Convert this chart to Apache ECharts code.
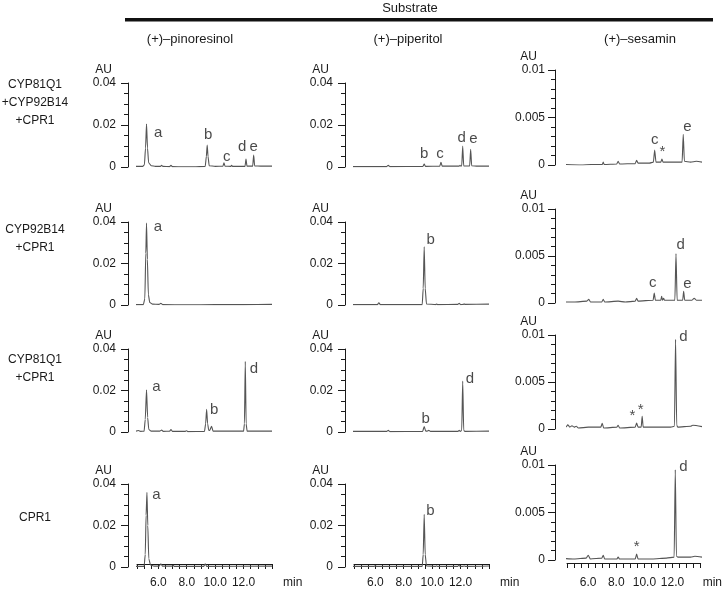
<!DOCTYPE html>
<html><head><meta charset="utf-8">
<script src="https://cdn.jsdelivr.net/npm/echarts@6/dist/echarts.min.js"></script>
<style>html,body{margin:0;padding:0;background:#fff}#c{width:723px;height:589px}</style>
</head><body><div id="c"></div>
<script>
// ---------------- data ----------------
const headerTitle = 'Substrate';
const substrates = ['(+)–pinoresinol', '(+)–piperitol', '(+)–sesamin'];
const enzymes = ['CYP81Q1\n+CYP92B14\n+CPR1', 'CYP92B14\n+CPR1', 'CYP81Q1\n+CPR1', 'CPR1'];
const timeRange = [4.5, 14.0];
const timeTickStep = 0.5;
const timeLabels = [6, 8, 10, 12];
const auMax = [0.04, 0.04, 0.01];
const auStep = [0.02, 0.02, 0.005];
const auMinorSplit = [4, 4, 5];

// chromatograms [time (min), AU]
const pino_81Q1_92B14 = [[4.4,0.0003],[4.9,0.0003],[5.02,0.001],[5.1,0.009],[5.17,0.0205],[5.24,0.009],[5.32,0.002],[5.5,0.0006],[5.8,0.0003],[6.15,0.0003],[6.23,0.0008],[6.32,0.0003],[6.8,0.0002],[6.89,0.0008],[6.98,0.0002],[7.8,0.0001],[8.5,0.0001],[9.3,0.0003],[9.38,0.005],[9.44,0.0105],[9.5,0.005],[9.58,0.0006],[10.0,0.0003],[10.55,0.0004],[10.62,0.002],[10.69,0.0004],[11.1,0.0003],[11.16,0.0008],[11.22,0.0003],[12.1,0.0003],[12.17,0.0038],[12.24,0.0004],[12.64,0.0004],[12.71,0.0057],[12.78,0.0005],[13.2,0.0004],[14.0,0.0004]];
const pipe_81Q1_92B14 = [[4.4,0.0002],[6.8,0.0002],[6.91,0.0008],[7.02,0.0002],[9.35,0.0003],[9.44,0.0014],[9.53,0.0003],[10.53,0.0004],[10.62,0.0022],[10.71,0.0004],[11.9,0.0004],[11.96,0.0008],[12.02,0.0004],[12.08,0.0005],[12.15,0.01],[12.22,0.0005],[12.64,0.0005],[12.71,0.0084],[12.78,0.0006],[13.2,0.0004],[14.0,0.0004]];
const sesa_81Q1_92B14 = [[4.4,0.00005],[5.5,0.0],[6.2,0.00005],[6.98,0.00005],[7.05,0.0003],[7.12,0.00005],[8.0,0.0001],[8.1,0.0004],[8.2,0.0001],[9.3,0.00015],[9.4,0.0005],[9.5,0.0002],[10.3,0.0002],[10.58,0.0003],[10.67,0.00158],[10.76,0.0003],[11.1,0.0003],[11.18,0.00063],[11.26,0.0003],[12.0,0.0003],[12.6,0.0003],[12.68,0.00323],[12.76,0.0004],[13.2,0.0003],[13.6,0.0004],[14.0,0.0003]];

const pino_92B14 = [[4.4,0.0002],[4.95,0.0002],[5.05,0.003],[5.12,0.025],[5.17,0.0395],[5.23,0.022],[5.3,0.005],[5.4,0.0012],[5.6,0.0004],[6.05,0.0003],[6.18,0.0008],[6.3,0.0002],[8.0,0.0001],[10.0,0.0002],[12.0,0.0002],[14.0,0.0003]];
const pipe_92B14 = [[4.4,0.0002],[6.15,0.0002],[6.25,0.0011],[6.35,0.0002],[9.3,0.0002],[9.37,0.008],[9.44,0.028],[9.51,0.008],[9.6,0.0005],[10.25,0.0002],[10.31,0.0005],[10.37,0.0002],[11.8,0.0003],[11.9,0.0008],[12.0,0.0002],[12.2,0.0003],[12.25,0.0006],[12.3,0.0003],[14.0,0.0004]];
const sesa_92B14 = [[4.4,0.0001],[5.0,0.0001],[5.9,0.0002],[6.04,0.0004],[6.15,0.0001],[6.95,0.0001],[7.05,0.0004],[7.15,0.0001],[8.1,0.0002],[8.6,0.0001],[9.3,0.0002],[9.4,0.0005],[9.5,0.0002],[10.56,0.0003],[10.64,0.00106],[10.72,0.0003],[11.1,0.0003],[11.16,0.0007],[11.22,0.0003],[11.3,0.0005],[11.36,0.0003],[12.09,0.0003],[12.17,0.00524],[12.25,0.0003],[12.64,0.0003],[12.71,0.00124],[12.78,0.0003],[13.3,0.0003],[13.45,0.0005],[13.6,0.0003],[14.0,0.0003]];

const pino_81Q1 = [[4.4,0.0004],[4.6,0.0007],[4.75,0.0003],[5.0,0.0004],[5.08,0.006],[5.17,0.0203],[5.25,0.007],[5.33,0.0012],[5.5,0.0004],[6.1,0.0004],[6.23,0.0009],[6.35,0.0003],[6.8,0.0004],[6.89,0.0012],[7.0,0.0003],[7.9,0.0003],[7.99,0.0006],[8.1,0.0002],[9.25,0.0003],[9.33,0.004],[9.4,0.0109],[9.47,0.004],[9.55,0.0008],[9.62,0.0008],[9.75,0.0028],[9.85,0.0004],[12.0,0.0004],[12.06,0.004],[12.12,0.034],[12.18,0.004],[12.25,0.0004],[14.0,0.0004]];
const pipe_81Q1 = [[4.4,0.0003],[6.8,0.0003],[6.91,0.0008],[7.02,0.0002],[9.33,0.0003],[9.44,0.0026],[9.55,0.0004],[9.65,0.0004],[9.77,0.0008],[9.88,0.0003],[11.82,0.0003],[11.9,0.0008],[11.98,0.0003],[12.08,0.0008],[12.15,0.0245],[12.22,0.0008],[12.3,0.0003],[14.0,0.0004]];
const sesa_81Q1 = [[4.4,0.0002],[4.45,0.00025],[4.55,0.00045],[4.7,0.0002],[4.85,0.00035],[5.0,0.0002],[5.15,0.0003],[5.3,0.0001],[6.0,0.0002],[6.88,0.0002],[6.98,0.0006],[7.08,0.0001],[8.0,0.0002],[8.1,0.0004],[8.2,0.0001],[9.3,0.0002],[9.4,0.00063],[9.5,0.0002],[9.72,0.0002],[9.79,0.00134],[9.86,0.0002],[10.5,0.0002],[11.8,0.0002],[12.06,0.0003],[12.14,0.00954],[12.22,0.0004],[12.3,0.0002],[13.2,0.0003],[13.35,0.0004],[14.0,0.00025]];

const pino_CPR1 = [[4.4,0.0003],[5.0,0.0003],[5.08,0.006],[5.14,0.025],[5.2,0.036],[5.26,0.02],[5.33,0.004],[5.45,0.001],[5.7,0.0004],[6.05,0.0004],[6.18,0.0016],[6.3,0.0004],[6.98,0.0004],[7.05,0.0008],[7.12,0.0003],[8.0,0.0003],[9.2,0.0003],[9.3,0.0016],[9.4,0.0003],[14.0,0.0004]];
const pipe_CPR1 = [[4.4,0.0003],[5.9,0.0003],[6.0,0.0007],[6.1,0.0003],[9.3,0.0003],[9.37,0.006],[9.44,0.0253],[9.51,0.006],[9.6,0.0005],[10.25,0.0003],[10.31,0.0006],[10.37,0.0003],[11.8,0.0003],[11.88,0.0009],[11.96,0.0003],[12.18,0.0003],[12.25,0.0006],[12.32,0.0003],[14.0,0.0005]];
const sesa_CPR1 = [[4.4,0.00015],[5.0,0.0001],[5.85,0.0002],[5.99,0.0005],[6.15,0.0001],[6.95,0.0002],[7.05,0.0005],[7.15,0.0001],[8.0,0.0001],[8.1,0.0003],[8.2,0.0001],[9.3,0.0001],[9.4,0.00063],[9.5,0.0001],[10.5,0.0001],[11.5,0.0002],[12.04,0.0003],[12.12,0.0095],[12.2,0.0004],[12.3,0.0003],[13.2,0.0003],[13.5,0.0004],[14.0,0.0003]];

// peak annotations [time, AU, text]
const notes_pino_81Q1_92B14 = [[5.99,0.0163,'a'],[9.51,0.0152,'b'],[10.81,0.0046,'c'],[11.9,0.0097,'d'],[12.71,0.0095,'e']];
const notes_pipe_81Q1_92B14 = [[9.44,0.0063,'b'],[10.56,0.0062,'c'],[12.08,0.0137,'d'],[12.9,0.0135,'e']];
const notes_sesa_81Q1_92B14 = [[10.67,0.0026,'c'],[11.21,0.00142,'*'],[12.98,0.00403,'e']];
const notes_pino_92B14 = [[5.97,0.0378,'a']];
const notes_pipe_92B14 = [[9.89,0.0312,'b']];
const notes_sesa_92B14 = [[10.53,0.00209,'c'],[12.5,0.0062,'d'],[12.98,0.00205,'e']];
const notes_pino_81Q1 = [[5.87,0.0216,'a'],[9.93,0.0105,'b'],[12.73,0.0305,'d']];
const notes_pipe_81Q1 = [[9.54,0.0065,'b'],[12.66,0.0258,'d']];
const notes_sesa_81Q1 = [[9.1,0.00138,'*'],[9.69,0.00208,'*'],[12.7,0.0098,'d']];
const notes_pino_CPR1 = [[5.87,0.0348,'a']];
const notes_pipe_CPR1 = [[9.87,0.0269,'b']];
const notes_sesa_CPR1 = [[9.4,0.00143,'*'],[12.7,0.0098,'d']];

const traces = [
  [pino_81Q1_92B14, pipe_81Q1_92B14, sesa_81Q1_92B14],
  [pino_92B14, pipe_92B14, sesa_92B14],
  [pino_81Q1, pipe_81Q1, sesa_81Q1],
  [pino_CPR1, pipe_CPR1, sesa_CPR1]
];
const notes = [
  [notes_pino_81Q1_92B14, notes_pipe_81Q1_92B14, notes_sesa_81Q1_92B14],
  [notes_pino_92B14, notes_pipe_92B14, notes_sesa_92B14],
  [notes_pino_81Q1, notes_pipe_81Q1, notes_sesa_81Q1],
  [notes_pino_CPR1, notes_pipe_CPR1, notes_sesa_CPR1]
];

// ---------------- layout ----------------
const FONT = '"Liberation Sans", Arial, Helvetica, sans-serif';
const INK = '#1a1a1a';
const AXIS = '#1a1a1a';
const colLeft = [137, 354, 567];      // plot area left edge
const yAxisX = [128, 345, 555];       // detached y-axis position
const panelW = 135;
const rowTop = [[83, 222, 349, 484], [83, 222, 349, 484], [70, 209, 335, 465]];
const rowH = [[84, 83, 83, 83], [84, 83, 83, 83], [95, 94, 94, 95]];
const xAxisY = [568, 568, 566];       // detached time-axis position
const rowLabelY = [103, 239, 369, 518];

const grid = [], xAxis = [], yAxis = [], series = [];
const hiddenX = (gi) => ({ gridIndex: gi, type: 'value', min: timeRange[0], max: timeRange[1], show: false, splitLine: { show: false } });

for (let r = 0; r < 4; r++) {
  for (let c = 0; c < 3; c++) {
    // plot grid
    const gi = grid.length;
    grid.push({ left: colLeft[c], top: rowTop[c][r], width: panelW, height: rowH[c][r] });
    xAxis.push(hiddenX(gi));
    yAxis.push({ gridIndex: gi, type: 'value', min: 0, max: auMax[c], show: false, splitLine: { show: false } });
    const ai = xAxis.length - 1;
    series.push({
      type: 'line', xAxisIndex: ai, yAxisIndex: ai, data: traces[r][c],
      showSymbol: false, symbol: 'none', smooth: 0.2, smoothMonotone: 'x',
      lineStyle: { color: '#555', width: 1.1 }, silent: true, animation: false
    });
    series.push({
      type: 'scatter', xAxisIndex: ai, yAxisIndex: ai, data: notes[r][c],
      symbolSize: 0, silent: true, animation: false, encode: { x: 0, y: 1 },
      label: { show: true, position: 'inside', formatter: p => p.value[2], fontFamily: FONT, fontSize: 15, color: INK }
    });

    // y-axis grid (same vertical scale, placed at the detached axis position)
    const gy = grid.length;
    grid.push({ left: yAxisX[c], top: rowTop[c][r], width: 1, height: rowH[c][r] });
    xAxis.push(hiddenX(gy));
    yAxis.push({
      gridIndex: gy, type: 'value', min: 0, max: auMax[c], interval: auStep[c],
      name: 'AU', nameLocation: 'end', nameGap: 7,
      nameTextStyle: { fontFamily: FONT, fontSize: 12, color: INK, align: 'right', padding: [0, c === 2 ? 18 : 16, 0, 0] },
      axisLine: { show: true, lineStyle: { color: AXIS, width: 1 } },
      axisTick: { show: true, length: 7, lineStyle: { color: AXIS, width: 1 } },
      minorTick: { show: true, splitNumber: auMinorSplit[c], length: 4, lineStyle: { color: AXIS, width: 1 } },
      axisLabel: { margin: c === 2 ? 10 : 12, fontFamily: FONT, fontSize: 12, color: INK, formatter: v => String(+Number(v).toFixed(4)) },
      splitLine: { show: false }, minorSplitLine: { show: false }
    });

    // time axis for the bottom row (same horizontal scale, detached below the plot)
    if (r === 3) {
      const gx = grid.length;
      grid.push({ left: colLeft[c], top: xAxisY[c] - 10, width: panelW, height: 10 });
      xAxis.push({
        gridIndex: gx, type: 'value', min: timeRange[0], max: timeRange[1], interval: timeTickStep,
        name: 'min', nameLocation: 'end', nameGap: c === 2 ? 2 : 11,
        nameTextStyle: { fontFamily: FONT, fontSize: 12, color: INK, verticalAlign: 'top', align: 'left', padding: [c === 2 ? 14 : 13, 0, 0, 0] },
        axisLine: { show: true, onZero: false, lineStyle: { color: AXIS, width: 1 } },
        axisTick: { show: true, length: 5, lineStyle: { color: AXIS, width: 1 } },
        axisLabel: { show: true, interval: 0, hideOverlap: false, showMinLabel: true, showMaxLabel: true,
          margin: c === 2 ? 14 : 13, fontFamily: FONT, fontSize: 12, color: INK,
          formatter: v => timeLabels.some(t => Math.abs(t - v) < 1e-6) ? Number(v).toFixed(1) : '' },
        splitLine: { show: false }
      });
      yAxis.push({ gridIndex: gx, type: 'value', min: 0, max: 1, show: false, splitLine: { show: false } });
    }
  }
}

const graphic = [];
graphic.push({ type: 'text', x: 410, y: 8, style: { text: headerTitle, font: '13px ' + FONT, fill: INK, align: 'center', verticalAlign: 'middle' } });
graphic.push({ type: 'rect', shape: { x: 125, y: 18, width: 588, height: 3.5 }, style: { fill: '#111' } });
const headerX = [190, 408, 640];
substrates.forEach((s, i) => graphic.push({ type: 'text', x: headerX[i], y: 39, style: { text: s, font: '13px ' + FONT, fill: INK, align: 'center', verticalAlign: 'middle' } }));
enzymes.forEach((s, i) => graphic.push({ type: 'text', x: 35, y: rowLabelY[i], style: { text: s, font: '12px ' + FONT, fill: INK, align: 'center', verticalAlign: 'middle', lineHeight: 18 } }));

const chart = echarts.init(document.getElementById('c'), null, { renderer: 'canvas' });
chart.setOption({ animation: false, backgroundColor: '#fff', grid, xAxis, yAxis, series, graphic });
</script></body></html>
